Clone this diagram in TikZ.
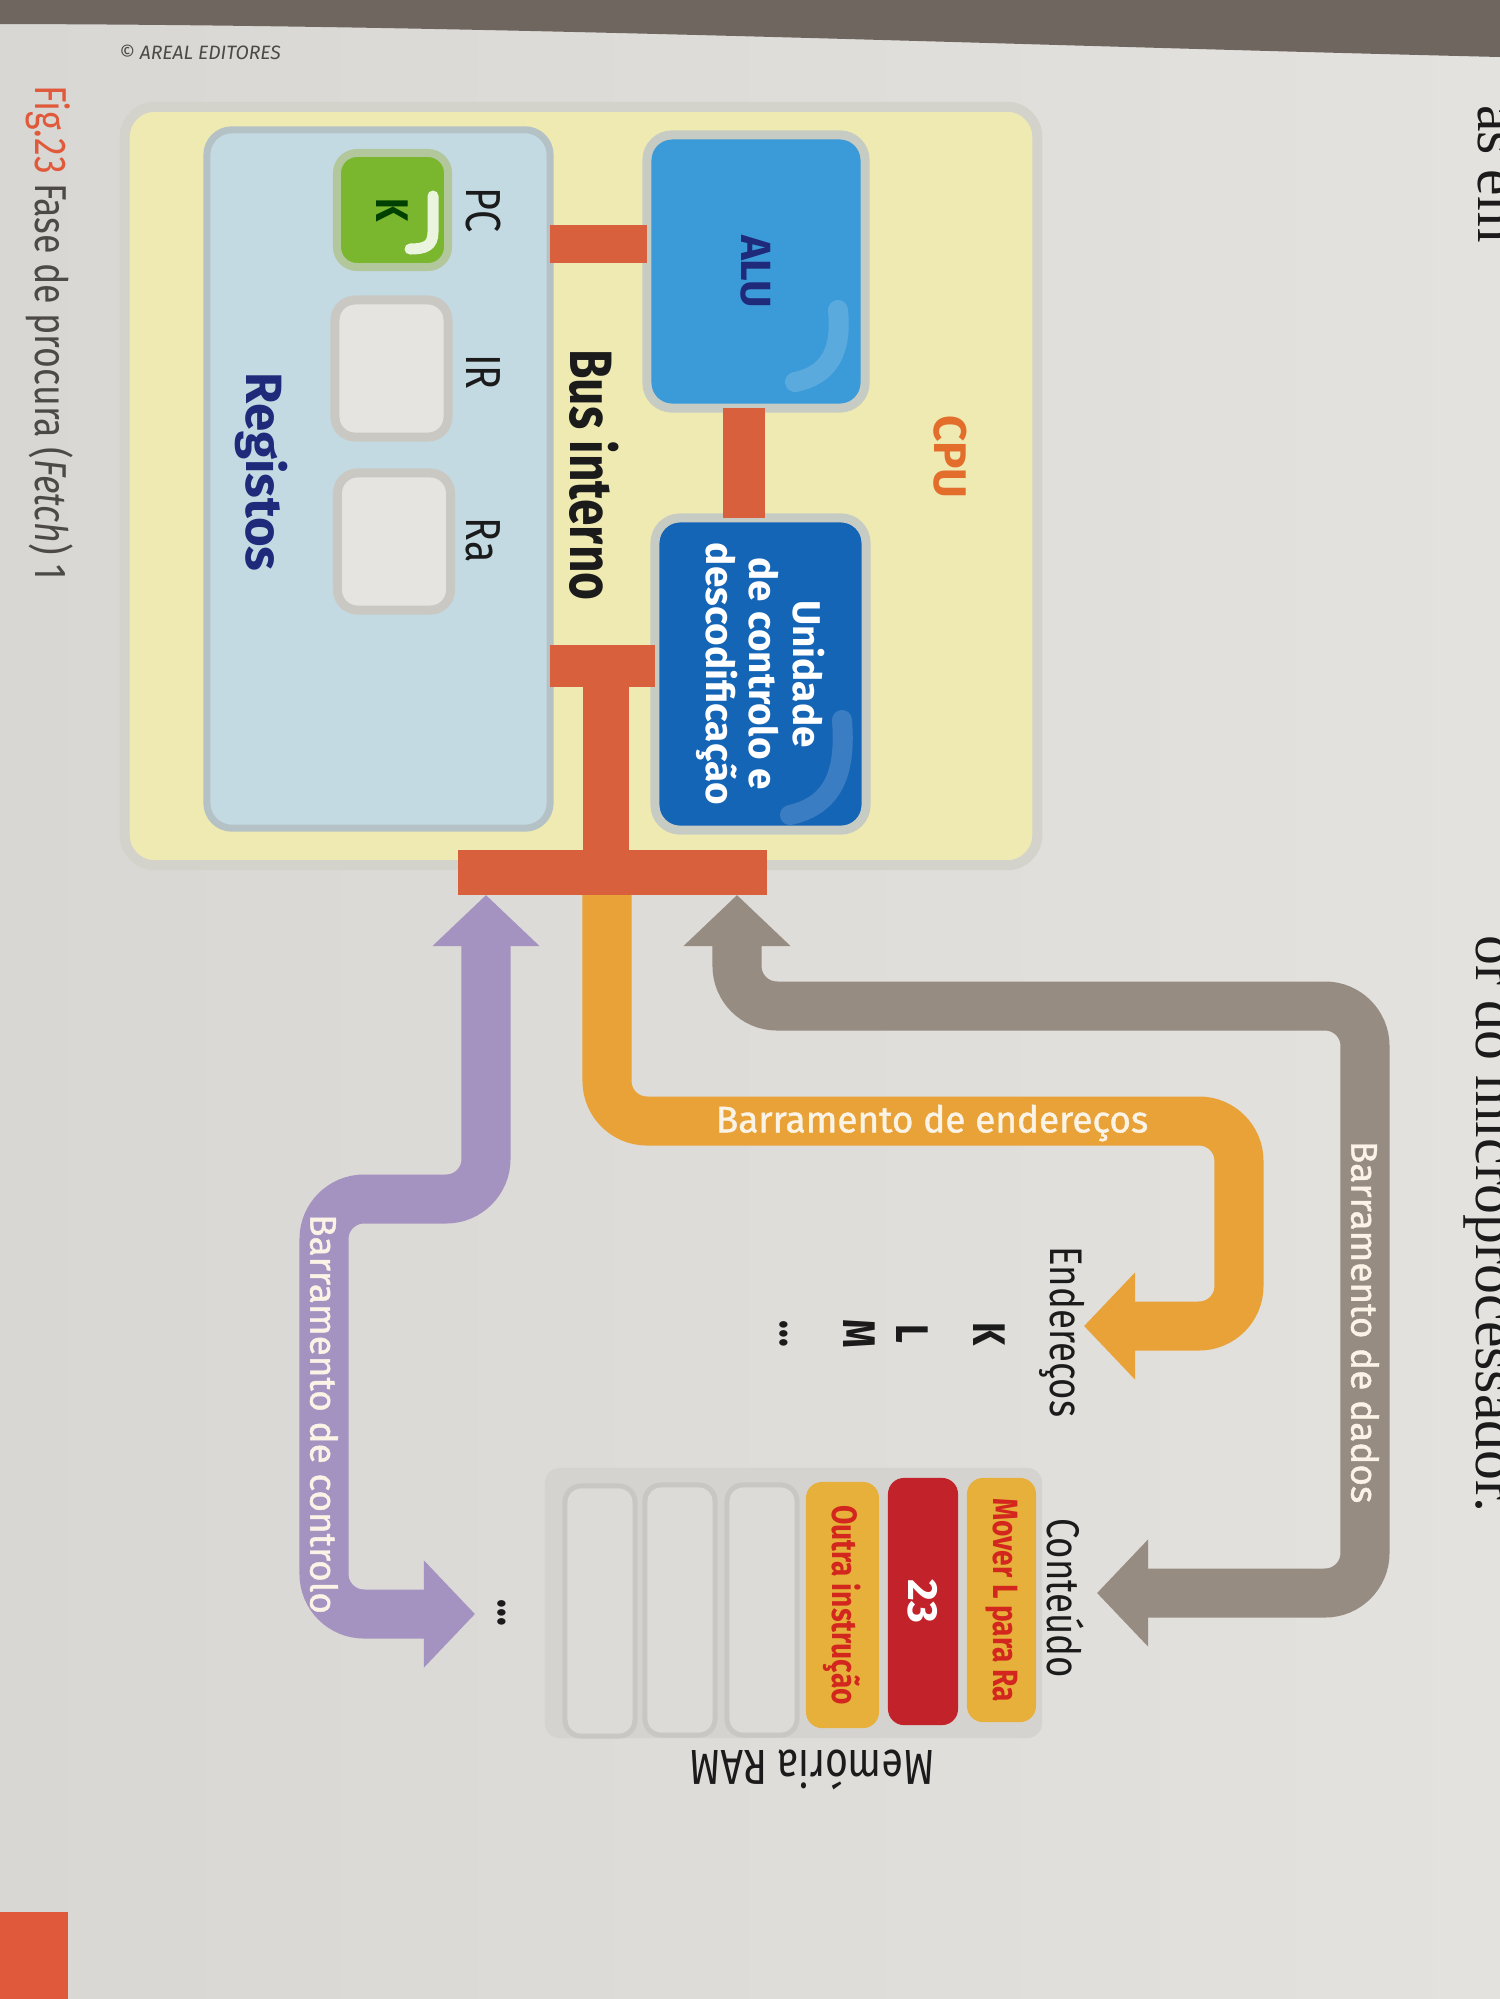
\documentclass[tikz,border=0pt]{standalone}
\usepackage{fontspec}
\setmainfont{Fira Sans}
\newfontfamily\narrowfont{Fira Sans}[FakeStretch=0.8]
\newfontfamily\busfont{Fira Sans}[FakeBold=1.2]
\newfontfamily\pagefont{Liberation Serif}
\usetikzlibrary{arrows.meta}
\definecolor{pagebg}{HTML}{E4E2DF}
\definecolor{pageedge}{HTML}{D9D7D3}
\definecolor{topband}{HTML}{6F6660}
\definecolor{cpuyellow}{HTML}{EFE9B2}
\definecolor{cpuedge}{HTML}{D3D3CC}
\definecolor{regblue}{HTML}{C4DAE3}
\definecolor{regedge}{HTML}{B4C2C6}
\definecolor{pcgreen}{HTML}{7AB62E}
\definecolor{pcedge}{HTML}{B3C79C}
\definecolor{cellwhite}{HTML}{E6E4E0}
\definecolor{celledge}{HTML}{CAC8C3}
\definecolor{alublue}{HTML}{3B9AD8}
\definecolor{cublue}{HTML}{1565B7}
\definecolor{boxedge}{HTML}{C6CCC4}
\definecolor{busred}{HTML}{D9603D}
\definecolor{addrorange}{HTML}{E8A238}
\definecolor{datagray}{HTML}{968C81}
\definecolor{ctrlpurple}{HTML}{A493C1}
\definecolor{memyellow}{HTML}{E6B03A}
\definecolor{memred}{HTML}{C2232A}
\definecolor{memgray}{HTML}{DDDBD8}
\definecolor{memedge}{HTML}{C9C7C4}
\definecolor{rampanel}{HTML}{D5D3CF}
\definecolor{textred}{HTML}{D2261E}
\definecolor{navy}{HTML}{1F2A7A}
\definecolor{cpuorange}{HTML}{E36D2B}
\definecolor{figorange}{HTML}{E0593A}
\definecolor{capgray}{HTML}{4C4947}
\definecolor{buswhite}{HTML}{FAF3E6}
\definecolor{ink}{HTML}{1B1B1B}
\begin{document}
\begin{tikzpicture}[x=0.01cm, y=-0.01cm,
  every node/.style={inner sep=0pt, outer sep=0pt},
  box/.style={rounded corners=2.5mm, line width=0.9mm, draw=boxedge},
  regbox/.style={box, rounded corners=2mm, fill=cellwhite, draw=celledge, minimum width=11.3mm, minimum height=13.7mm},
  cell/.style={rounded corners=1.6mm, font=\narrowfont\bfseries\fontsize{10}{12}\selectfont},
  emptycell/.style={cell, fill=memgray, draw=memedge, line width=0.5mm, minimum width=7mm, minimum height=25mm},
  redbus/.style={draw=busred, line width=4.2mm},
  redbar/.style={fill=busred},
  band/.style={line width=4.9mm, rounded corners=4mm},
  tip/.tip={Triangle[length=5.1mm,width=10.4mm]},
  addrbus/.style={band, draw=addrorange, -tip},
  databus/.style={band, draw=datagray, tip-tip},
  ctrlbus/.style={band, draw=ctrlpurple, tip-tip},
  buslbl/.style={text=buswhite, font=\busfont\fontsize{10.5}{12}\selectfont},
  reglbl/.style={text=ink, font=\narrowfont\fontsize{14}{16}\selectfont},
  memlbl/.style={text=ink, font=\narrowfont\fontsize{13}{15}\selectfont},
  memkey/.style={text=ink, font=\narrowfont\bfseries\fontsize{13}{15}\selectfont},
  gloss/.style={white, line width=2mm, line cap=round, opacity=0.16}]
\useasboundingbox (0,0) rectangle (1500,1999);
\clip (0,0) rectangle (1500,1999);
\shade[left color=pageedge, right color=pagebg] (0,0) rectangle (1500,1999);
\fill[topband] (0,0) -- (1500,0) -- (1500,57) .. controls (1000,45) and (500,25) .. (0,24) -- cycle;
\fill[figorange] (0,1912) rectangle (68,1999);
\node[text=capgray, font=\itshape\fontsize{5.5}{6}\selectfont] (copyr) at (200,52) {© AREAL EDITORES};
\node[text=capgray, font=\narrowfont\fontsize{12.7}{14}\selectfont, rotate=-90, anchor=west] (caption) at (50,85) {\textcolor{figorange}{Fig.23} Fase de procura (\textit{Fetch}) 1};
\node[text=ink, font=\pagefont\fontsize{17}{20}\selectfont, rotate=-90, anchor=base west] (pagetop) at (1478,105) {as em};
\node[text=ink, font=\pagefont\fontsize{17}{20}\selectfont, rotate=-90, anchor=base east] (pagetxt) at (1476,1512) {or do microprocessador.};
\node[fill=cpuyellow, draw=cpuedge, line width=1mm, rounded corners=3mm, minimum width=91.2mm, minimum height=75.8mm] (cpu) at (581,486) {};
\node[text=cpuorange, font=\bfseries\fontsize{13}{15}\selectfont, rotate=-90] (cpulbl) at (950,457) {CPU};
\node[fill=regblue, draw=regedge, line width=0.7mm, rounded corners=2.5mm, minimum width=34.3mm, minimum height=69.8mm] (regs) at (378.5,479) {};
\node[text=navy, font=\bfseries\fontsize{14.5}{16}\selectfont, rotate=-90] (regslbl) at (262,472) {Registos};
\node[box, fill=pcgreen, draw=pcedge, line width=0.8mm, rounded corners=2mm, rotate=-90, minimum width=11.4mm, minimum height=11.1mm, text=black!75!green, font=\narrowfont\bfseries\fontsize{13}{15}\selectfont] (pc) at (392.5,210) {K};
\node[regbox] (ir) at (391.5,368.5) {};
\node[regbox] (ra) at (394,541.5) {};
\node[reglbl, rotate=-90] (pclbl) at (483,210) {PC};
\node[reglbl, rotate=-90] (irlbl) at (483,372) {IR};
\node[reglbl, rotate=-90] (ralbl) at (483,540) {Ra};
\draw[white, opacity=0.85, line width=1.1mm, line cap=round] (433,196) -- (433,232) .. controls (433,246) and (425,249) .. (410,249);
\node[box, fill=alublue, rotate=-90, minimum width=27.3mm, minimum height=21.8mm, text=navy, font=\bfseries\fontsize{12}{14}\selectfont] (alu) at (756,271.5) {ALU};
\node[box, fill=cublue, rotate=-90, minimum width=31.2mm, minimum height=21.1mm, align=center, text=white, font=\bfseries\fontsize{11}{12.3}\selectfont] (cu) at (760.5,674) {Unidade\\de controlo e\\descodificação};
\draw[gloss] (838,310) .. controls (842,350) and (830,375) .. (795,382);
\draw[gloss] (842,720) .. controls (846,770) and (835,805) .. (790,815);
\node[text=ink, font=\narrowfont\bfseries\fontsize{17}{20}\selectfont, rotate=-90] (buslbl) at (594,475) {Bus interno};
\draw[redbus, line width=3.8mm] (regs.east |- 0,244) -- (alu.south |- 0,244);
\draw[redbus] (alu.east -| 744,0) -- (cu.west -| 744,0);
\draw[redbus] (regs.east |- 0,666) -- (cu.south |- 0,666);
\node[redbar, minimum width=30.9mm, minimum height=4.5mm] (xbus) at (612.5,872.5) {};
\draw[redbus, line width=4.6mm] (606,666) -- (xbus.north -| 606,0);
\coordinate (atip) at (1084,1326);
\coordinate (dtip) at (1097,1593);
\coordinate (ctip) at (475,1614);
\draw[addrbus] (xbus.south -| 607,0) -- (607,1121) -- (1239,1121) -- (1239,1326) -- (atip);
\draw[databus] (xbus.south -| 737,0) -- (737,1006) -- (1365,1006) -- (1365,1593) -- (dtip);
\draw[ctrlbus] (xbus.south -| 486,0) -- (486,1199) -- (324,1199) -- (324,1614) -- (ctip);
\node[buslbl] (addrlbl) at (932,1123) {Barramento de endereços};
\node[buslbl, rotate=-90] (datalbl) at (1365,1322) {Barramento de dados};
\node[buslbl, rotate=-90] (ctrllbl) at (324,1414) {Barramento de controlo};
\node[memlbl, rotate=-90] (addrhead) at (1062,1332) {Endereços};
\node[memkey, rotate=-90] (keyk) at (989,1334) {K};
\node[memkey, rotate=-90] (keyl) at (912,1334) {L};
\node[memkey, rotate=-90] (keym) at (859,1334) {M};
\node[memkey, rotate=-90] (keydots) at (784,1334) {...};
\node[fill=rampanel, rounded corners=1.5mm, minimum width=49.7mm, minimum height=27mm] (ram) at (793.5,1603) {};
\node[cell, fill=memyellow, text=textred, rotate=-90, minimum width=24.4mm, minimum height=6.9mm] (cellmov) at (1001.5,1600) {Mover L para Ra};
\node[cell, fill=memred, text=white, rotate=-90, minimum width=24.7mm, minimum height=7mm, font=\bfseries\fontsize{12}{14}\selectfont] (cellval) at (923,1601.5) {23};
\node[cell, fill=memyellow, text=textred, rotate=-90, minimum width=24.6mm, minimum height=7.3mm] (cellout) at (842.5,1605) {Outra instrução};
\node[emptycell] (cellea) at (762,1610) {};
\node[emptycell] (celleb) at (680,1610) {};
\node[emptycell] (cellec) at (600,1611) {};
\node[memlbl, rotate=-90] (contlbl) at (1066,1598) {Conteúdo};
\node[memlbl, rotate=180, font=\narrowfont\fontsize{14}{16}\selectfont] (ramlbl) at (812,1770) {Memória RAM};
\node[memkey, rotate=-90] (ramdots) at (502,1613) {...};
\end{tikzpicture}
\end{document}
